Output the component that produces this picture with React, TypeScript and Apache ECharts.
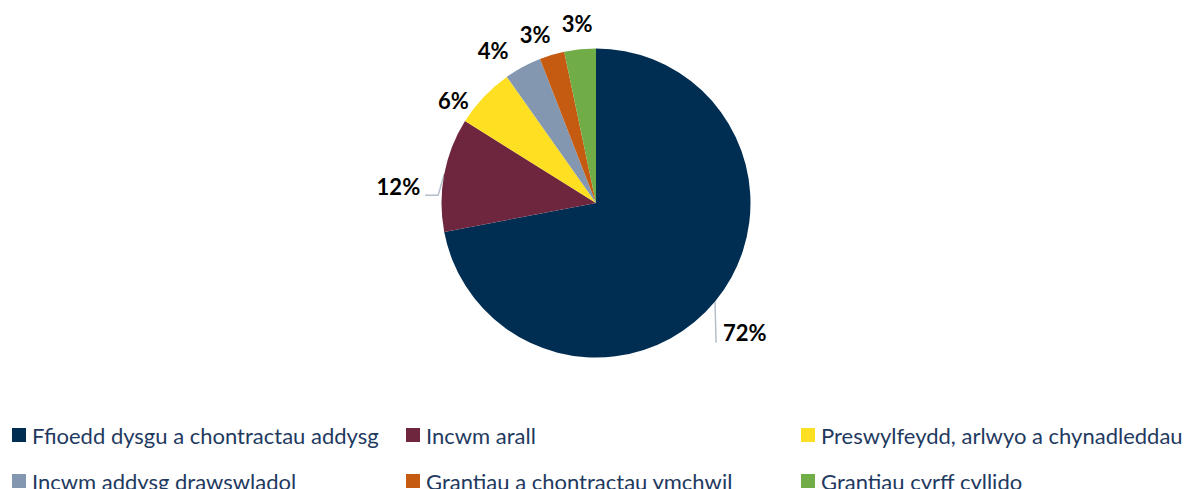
import React, { useEffect, useRef } from "react";
import * as echarts from "echarts";

const categories = [
  "Ffioedd dysgu a chontractau addysg",
  "Incwm arall",
  "Preswylfeydd, arlwyo a chynadleddau",
  "Incwm addysg drawswladol",
  "Grantiau a chontractau ymchwil",
  "Grantiau cyrff cyllido",
];
const shares = [72.0, 11.9, 6.3, 3.9, 2.6, 3.3];
const colors = ["#002e53", "#6e263f", "#ffdf22", "#8497b0", "#c55a11", "#70ad47"];

// legend grid: column x and row y (top) for each category
const legendLeft = [12, 406, 801];
const legendTop = [423, 469];

// label placement tweaks (px) relative to radial position
const labelNudge = [
  [-1, 6],
  [-7, 19],
  [-5, 27],
  [-14, 13],
  [-8, 9],
  [0, 3],
];
// leader line: kink x-offset from edge point; null = no visible line
const leader: (number | null)[] = [1, -6, null, null, null, null];

export default function App() {
  const ref = useRef<HTMLDivElement>(null);
  useEffect(() => {
    if (!ref.current) return;
    const chart = echarts.init(ref.current, undefined, { renderer: "svg" });
    const GAP = 16;
    const option: any = {
      animation: false,
      backgroundColor: "#ffffff",
      legend: categories.map((name, i) => ({
        orient: "horizontal",
        left: legendLeft[i % 3],
        top: legendTop[Math.floor(i / 3)],
        padding: 0,
        itemWidth: 14,
        itemHeight: 14,
        icon: "rect",
        selectedMode: false,
        data: [name],
        textStyle: {
          fontFamily: "Lato",
          fontSize: 22,
          lineHeight: 24,
          color: "#1f3a5f",
          padding: [0, 0, 0, 1],
        },
      })),
      series: [
        {
          type: "pie",
          center: [596, 203],
          radius: 154.5,
          startAngle: 90,
          clockwise: true,
          avoidLabelOverlap: false,
          itemStyle: { borderWidth: 0 },
          label: {
            show: true,
            position: "outside",
            formatter: (p: any) => Math.round(p.value) + "%",
            fontFamily: "Lato",
            fontWeight: "bold",
            fontSize: 22,
            color: "#000000",
          },
          labelLine: {
            show: true,
            length: 10,
            length2: 5,
            lineStyle: { color: "#b4bfcc", width: 1.5 },
          },
          labelLayout: (p: any) => {
            const pts = p.labelLinePoints;
            if (!pts) return {};
            const a = pts[0];
            const b = pts[1];
            const len = Math.hypot(b[0] - a[0], b[1] - a[1]) || 1;
            const ux = (b[0] - a[0]) / len;
            const uy = (b[1] - a[1]) / len;
            const w = p.labelRect.width;
            const h = p.labelRect.height;
            const ext = (Math.abs(ux) * w) / 2 + (Math.abs(uy) * h) / 2;
            const n = labelNudge[p.dataIndex];
            const cx = a[0] + ux * (GAP + ext) + n[0];
            const cy = a[1] + uy * (GAP + ext) + n[1];
            const k = leader[p.dataIndex];
            let linePts;
            if (k == null) {
              linePts = [a, a, a];
            } else {
              const bottom = cy + 9;
              const edge = ux > 0 ? cx - w / 2 - 6 : cx + w / 2 + 5;
              linePts = [a, [a[0] + k, bottom], [edge, bottom]];
            }
            return {
              x: cx,
              y: cy,
              align: "center",
              verticalAlign: "middle",
              labelLinePoints: linePts,
            };
          },
          data: categories.map((name, i) => ({
            name,
            value: shares[i],
            itemStyle: { color: colors[i] },
          })),
        },
      ],
    };
    chart.setOption(option);
    return () => chart.dispose();
  }, []);
  return (
    <div
      ref={ref}
      style={{ position: "absolute", left: 0, top: 0, width: 1189, height: 489 }}
    />
  );
}
